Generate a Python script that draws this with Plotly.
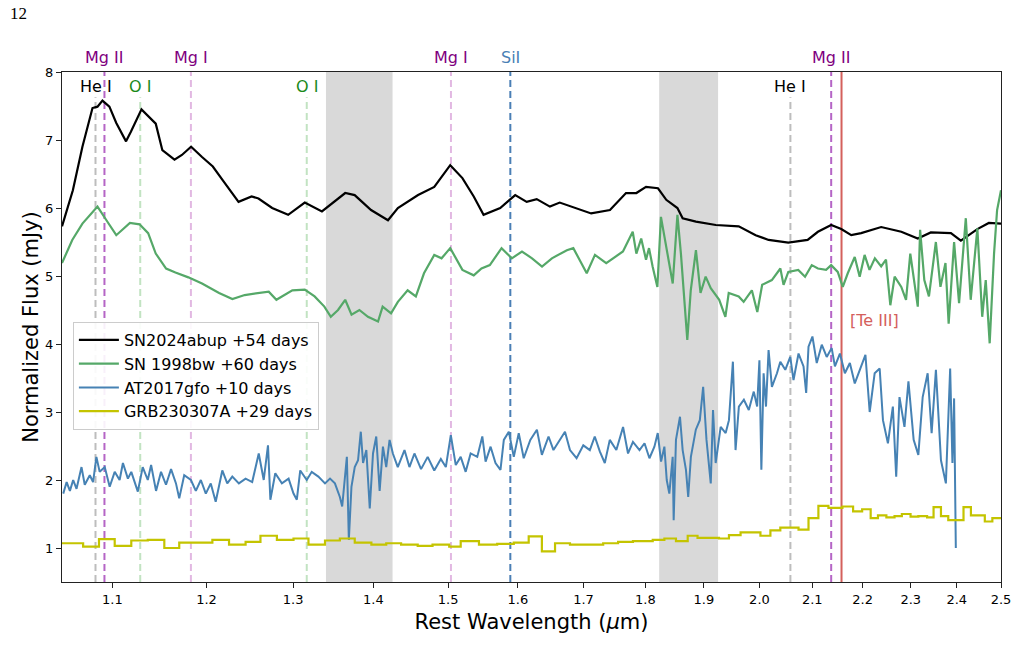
import math
import plotly.graph_objects as go

# ---------------- data ----------------
# SN2024abup +54 days (black)
bk_wl = [1.050, 1.0606, 1.070, 1.080, 1.085, 1.090, 1.097, 1.104, 1.114, 1.119,
         1.130, 1.138, 1.145, 1.152, 1.165, 1.173, 1.183, 1.195, 1.207, 1.218,
         1.236, 1.251, 1.259, 1.275, 1.294, 1.314, 1.335, 1.364, 1.376, 1.397,
         1.419, 1.432, 1.459, 1.481, 1.503, 1.520, 1.536, 1.550, 1.574, 1.596,
         1.613, 1.628, 1.648, 1.663, 1.689, 1.712, 1.742, 1.768, 1.785, 1.801,
         1.821, 1.835, 1.854, 1.863, 1.886, 1.921, 1.962, 1.993, 2.017, 2.054,
         2.091, 2.111, 2.137, 2.157, 2.177, 2.197, 2.238, 2.280, 2.315, 2.343,
         2.387, 2.409, 2.446, 2.472, 2.500]
bk_fl = [5.73, 6.26, 6.90, 7.47, 7.49, 7.58, 7.49, 7.25, 6.98, 7.12,
         7.45, 7.34, 7.24, 6.85, 6.71, 6.78, 6.90, 6.75, 6.61, 6.41,
         6.09, 6.17, 6.14, 6.00, 5.90, 6.08, 5.95, 6.22, 6.19, 5.97,
         5.82, 6.00, 6.19, 6.31, 6.63, 6.44, 6.17, 5.90, 6.00, 6.19,
         6.09, 6.13, 6.02, 6.08, 6.00, 5.92, 5.97, 6.22, 6.22, 6.31,
         6.29, 6.12, 6.00, 5.85, 5.80, 5.75, 5.73, 5.60, 5.53, 5.49,
         5.53, 5.65, 5.75, 5.69, 5.60, 5.63, 5.72, 5.65, 5.55, 5.64,
         5.63, 5.52, 5.69, 5.78, 5.77]

# SN 1998bw +60 days (green)
gr_wl = [1.050, 1.060, 1.070, 1.085, 1.094, 1.104, 1.118, 1.128, 1.137, 1.145,
         1.156, 1.166, 1.180, 1.195, 1.214, 1.229, 1.243, 1.259, 1.271, 1.280,
         1.299, 1.314, 1.326, 1.338, 1.346, 1.355, 1.364, 1.372, 1.382, 1.393,
         1.406, 1.412, 1.423, 1.432, 1.445, 1.456, 1.467, 1.481, 1.491, 1.503,
         1.520, 1.536, 1.547, 1.559, 1.576, 1.591, 1.606, 1.621, 1.636, 1.651,
         1.674, 1.684, 1.705, 1.718, 1.736, 1.763, 1.779, 1.785, 1.793, 1.801,
         1.806, 1.812, 1.820, 1.826, 1.835, 1.840, 1.846, 1.854, 1.860, 1.871,
         1.877, 1.886, 1.894, 1.903, 1.912, 1.927, 1.938, 1.944, 1.962, 1.971,
         1.986, 1.996, 2.005, 2.023, 2.039, 2.045, 2.054, 2.073, 2.086, 2.099,
         2.111, 2.127, 2.137, 2.150, 2.160, 2.170, 2.184, 2.194, 2.204, 2.214,
         2.225, 2.238, 2.248, 2.257, 2.266, 2.280, 2.290, 2.299, 2.308, 2.315,
         2.320, 2.329, 2.339, 2.354, 2.364, 2.375, 2.382, 2.394, 2.405, 2.420,
         2.431, 2.446, 2.457, 2.465, 2.474, 2.484, 2.491, 2.500]
gr_fl = [5.19, 5.53, 5.77, 6.02, 5.82, 5.60, 5.78, 5.76, 5.63, 5.33,
         5.11, 5.05, 4.98, 4.89, 4.75, 4.66, 4.72, 4.75, 4.77, 4.65,
         4.79, 4.80, 4.70, 4.55, 4.40, 4.50, 4.65, 4.43, 4.50, 4.40,
         4.33, 4.55, 4.45, 4.62, 4.79, 4.70, 5.04, 5.31, 5.26, 5.41,
         5.09, 5.01, 5.11, 5.16, 5.41, 5.26, 5.36, 5.26, 5.14, 5.26,
         5.38, 5.41, 5.04, 5.31, 5.19, 5.36, 5.65, 5.33, 5.55, 5.24,
         5.41, 5.14, 4.84, 5.87, 5.43, 5.14, 4.89, 5.90, 5.33, 4.06,
         4.79, 5.38, 4.75, 4.99, 4.82, 4.65, 4.40, 4.75, 4.70, 4.62,
         4.79, 4.47, 4.87, 4.94, 5.11, 4.87, 5.06, 5.09, 4.99, 5.16,
         5.11, 5.09, 5.16, 5.06, 4.84, 5.04, 5.28, 4.99, 5.31, 5.09,
         5.26, 5.14, 5.24, 4.57, 4.99, 4.84, 4.65, 5.33, 4.89, 4.55,
         5.68, 4.94, 4.70, 5.50, 4.84, 5.19, 4.30, 5.50, 4.60, 5.85,
         4.65, 5.70, 4.40, 4.94, 4.01, 5.33, 5.97, 6.26]

# AT2017gfo +10 days (blue)
bl_wl = [1.0512, 1.0545, 1.0577, 1.0609, 1.0642, 1.0691, 1.0723, 1.0773, 1.0806, 1.0839,
         1.0872, 1.0923, 1.0973, 1.1024, 1.1074, 1.1108, 1.1159, 1.1194, 1.1262, 1.1313,
         1.1366, 1.1401, 1.1453, 1.1506, 1.1559, 1.1613, 1.1666, 1.1701, 1.1755, 1.1828,
         1.1882, 1.1937, 1.1992, 1.2047, 1.2102, 1.2176, 1.2232, 1.2289, 1.2364, 1.2441,
         1.2517, 1.2593, 1.2651, 1.2701, 1.2729, 1.2787, 1.2865, 1.2945, 1.3004, 1.3044,
         1.3085, 1.3164, 1.3225, 1.3306, 1.3388, 1.3450, 1.3511, 1.3573, 1.3602, 1.3636,
         1.3661, 1.3686, 1.3719, 1.3761, 1.3803, 1.3838, 1.3867, 1.3909, 1.3953, 1.3995,
         1.4037, 1.4081, 1.4124, 1.4167, 1.4211, 1.4254, 1.4319, 1.4408, 1.4474, 1.4541,
         1.4630, 1.4720, 1.4810, 1.4900, 1.4969, 1.5038, 1.5107, 1.5176, 1.5246, 1.5316,
         1.5410, 1.5482, 1.5529, 1.5601, 1.5672, 1.5744, 1.5793, 1.5866, 1.5939, 1.6012,
         1.6086, 1.6184, 1.6283, 1.6358, 1.6459, 1.6534, 1.6634, 1.6711, 1.6788, 1.6891,
         1.6996, 1.7099, 1.7177, 1.7257, 1.7337, 1.7417, 1.7523, 1.7632, 1.7713, 1.7794,
         1.7902, 1.7985, 1.8067, 1.8150, 1.8206, 1.8262, 1.8318, 1.8358, 1.8402, 1.8459,
         1.8476, 1.8515, 1.8584, 1.8630, 1.8687, 1.8726, 1.8772, 1.8858, 1.8928, 1.8986,
         1.9045, 1.9120, 1.9160, 1.9207, 1.9296, 1.9385, 1.9444, 1.9515, 1.9563, 1.9623,
         1.9714, 1.9804, 1.9895, 1.9957, 1.9999, 2.0035, 2.0077, 2.0121, 2.0169, 2.0231,
         2.0326, 2.0389, 2.0483, 2.0577, 2.0639, 2.0735, 2.0831, 2.0882, 2.0927, 2.1003,
         2.1087, 2.1185, 2.1282, 2.1380, 2.1444, 2.1543, 2.1642, 2.1742, 2.1841, 2.1942,
         2.2057, 2.2144, 2.2246, 2.2349, 2.2417, 2.2520, 2.2623, 2.2693, 2.2762, 2.2867,
         2.2951, 2.3062, 2.3162, 2.3255, 2.3362, 2.3448, 2.3541, 2.3651, 2.3759, 2.3853,
         2.3903, 2.3940, 2.3978]
bl_fl = [1.80, 1.97, 1.84, 2.00, 1.87, 2.19, 1.93, 2.07, 1.97, 2.34,
         2.12, 2.19, 1.90, 2.12, 2.00, 2.25, 2.02, 2.12, 1.83, 2.19,
         2.00, 2.22, 1.84, 2.12, 1.93, 2.16, 1.95, 1.73, 2.07, 2.00,
         1.84, 2.00, 1.80, 1.95, 1.68, 2.14, 1.95, 2.05, 1.95, 2.02,
         1.97, 2.39, 2.00, 2.51, 1.71, 2.10, 1.95, 2.02, 1.80, 1.71,
         2.14, 2.00, 2.12, 2.05, 1.95, 2.02, 1.95, 1.75, 1.61, 2.10,
         2.34, 1.12, 1.90, 2.19, 2.29, 2.71, 2.25, 2.44, 1.58, 2.39,
         2.64, 1.84, 2.49, 2.19, 2.59, 2.39, 2.19, 2.44, 2.19, 2.39,
         2.16, 2.34, 2.14, 2.31, 2.19, 2.66, 2.22, 2.34, 2.12, 2.39,
         2.34, 2.64, 2.27, 2.49, 2.25, 2.15, 2.59, 2.71, 2.34, 2.69,
         2.32, 2.59, 2.74, 2.37, 2.64, 2.44, 2.59, 2.71, 2.44, 2.32,
         2.51, 2.44, 2.64, 2.42, 2.25, 2.59, 2.44, 2.78, 2.39, 2.56,
         2.44, 2.54, 2.32, 2.49, 2.69, 2.27, 2.49, 2.00, 1.80, 2.34,
         1.41, 2.59, 2.93, 2.44, 2.15, 1.75, 2.34, 2.74, 2.88, 3.37,
         2.59, 1.95, 3.03, 2.25, 2.78, 2.69, 2.88, 3.74, 2.44, 3.08,
         3.18, 3.03, 3.30, 3.08, 3.76, 2.15, 3.57, 3.08, 3.91, 3.37,
         3.57, 3.74, 3.62, 3.81, 3.47, 3.86, 3.67, 3.28, 3.96, 4.11,
         3.72, 3.99, 3.81, 3.94, 3.67, 3.86, 3.57, 3.72, 3.42, 3.62,
         3.84, 3.00, 3.57, 3.64, 2.88, 2.54, 3.08, 2.05, 3.22, 2.78,
         3.45, 2.59, 2.37, 3.22, 3.57, 2.69, 3.62, 2.29, 1.95, 3.64,
         2.25, 3.20, 1.00]

# GRB230307A +29 days (yellow, binned: left edge of each bin)
ye_wl = [1.040, 1.0707, 1.0865, 1.1024, 1.1194, 1.1366, 1.1541, 1.1701, 1.1882, 1.2065,
         1.2252, 1.2441, 1.2613, 1.2806, 1.3004, 1.3185, 1.3388, 1.3573, 1.3761, 1.3974,
         1.4167, 1.4363, 1.4585, 1.4786, 1.5016, 1.5176, 1.5434, 1.5696, 1.5939, 1.6160,
         1.6358, 1.6558, 1.6788, 1.7047, 1.7311, 1.7551, 1.7794, 1.8122, 1.8318, 1.8515,
         1.8717, 1.8888, 1.9266, 1.9444, 1.9654, 2.0018, 2.0203, 2.0389, 2.0735, 2.0927,
         2.1119, 2.1315, 2.1593, 2.1807, 2.1990, 2.2164, 2.2314, 2.2488, 2.2658, 2.2812,
         2.2996, 2.3162, 2.3350, 2.3490, 2.3651, 2.3811, 2.4149, 2.4315, 2.4477, 2.4629,
         2.4801, 2.5100]
ye_fl = [1.07, 1.02, 1.13, 1.03, 1.11, 1.12, 1.00, 1.08, 1.08, 1.12,
         1.05, 1.09, 1.18, 1.12, 1.14, 1.05, 1.11, 1.14, 1.08, 1.05,
         1.07, 1.05, 1.03, 1.05, 1.02, 1.10, 1.05, 1.06, 1.08, 1.17,
         0.95, 1.07, 1.05, 1.05, 1.07, 1.09, 1.10, 1.12, 1.14, 1.10,
         1.18, 1.15, 1.14, 1.19, 1.23, 1.18, 1.26, 1.30, 1.27, 1.44,
         1.62, 1.59, 1.61, 1.54, 1.57, 1.44, 1.48, 1.45, 1.47, 1.50,
         1.46, 1.47, 1.45, 1.60, 1.47, 1.41, 1.60, 1.48, 1.48, 1.39,
         1.44, 1.44]

series_names = ["SN2024abup +54 days", "SN 1998bw +60 days",
                "AT2017gfo +10 days", "GRB230307A +29 days"]

# telluric bands (µm)
bands = [(1.34, 1.425), (1.823, 1.925)]

# line identifications: (label, wavelength, style key)
line_ids = [("He I", 1.083, "he"), ("Mg II", 1.092, "mg2"), ("O I", 1.1287, "o1"),
            ("Mg I", 1.1828, "mg1"), ("O I", 1.3164, "o1"), ("Mg I", 1.5040, "mg1"),
            ("SiI", 1.5888, "si"), ("He I", 2.058, "he"), ("Mg II", 2.137, "mg2")]
te_wl = 2.1575

x_ticks = [1.1, 1.2, 1.3, 1.4, 1.5, 1.6, 1.7, 1.8, 1.9, 2.0, 2.1, 2.2, 2.3, 2.4, 2.5]
y_ticks = [1, 2, 3, 4, 5, 6, 7, 8]

# ---------------- styles ----------------
FONT = "DejaVu Sans"
styles = {
    "he": dict(color="#bdbdbd", top=7.63, text_color="black", inside=True),
    "o1": dict(color="#c2e3c2", top=7.63, text_color="#1a8a1a", inside=True),
    "mg2": dict(color="#b565c6", top=8.0, text_color="#800080", inside=False),
    "mg1": dict(color="#e2b8e2", top=8.0, text_color="#800080", inside=False),
    "si": dict(color="#4a7fb5", top=8.0, text_color="#4a7fb5", inside=False),
}

fig = go.Figure()

# shaded bands
for a, b in bands:
    fig.add_trace(go.Scatter(x=[a, b, b, a, a], y=[0.5, 0.5, 8, 8, 0.5],
                             fill="toself", fillcolor="#d9d9d9", mode="none",
                             showlegend=False, hoverinfo="skip"))

# vertical line identifications
for label, wl, key in line_ids:
    st = styles[key]
    fig.add_trace(go.Scatter(x=[wl, wl], y=[0.5, st["top"]], mode="lines",
                             line=dict(color=st["color"], width=2, dash="7px,4px"),
                             showlegend=False, hoverinfo="skip"))
fig.add_trace(go.Scatter(x=[te_wl, te_wl], y=[0.5, 8], mode="lines",
                         line=dict(color="#d4605c", width=2),
                         showlegend=False, hoverinfo="skip"))

# spectra
fig.add_trace(go.Scatter(x=bk_wl, y=bk_fl, mode="lines", name=series_names[0],
                         line=dict(color="black", width=2.2)))
fig.add_trace(go.Scatter(x=gr_wl, y=gr_fl, mode="lines", name=series_names[1],
                         line=dict(color="#55a868", width=2.2)))
fig.add_trace(go.Scatter(x=bl_wl, y=bl_fl, mode="lines", name=series_names[2],
                         line=dict(color="#4682b4", width=2)))
fig.add_trace(go.Scatter(x=ye_wl, y=ye_fl, mode="lines", name=series_names[3],
                         line=dict(color="#c4c400", width=2.2, shape="hv")))

# annotations
annotations = []
for label, wl, key in line_ids:
    st = styles[key]
    if st["inside"]:
        annotations.append(dict(x=math.log10(wl), y=7.78, xref="x", yref="y",
                                text=label, showarrow=False,
                                font=dict(family=FONT, size=16, color=st["text_color"]),
                                xanchor="center", yanchor="middle"))
    else:
        annotations.append(dict(x=math.log10(wl), y=1, xref="x", yref="paper",
                                text=label, showarrow=False, yshift=15,
                                font=dict(family=FONT, size=16, color=st["text_color"]),
                                xanchor="center", yanchor="middle"))
annotations.append(dict(x=math.log10(2.171), y=4.34, xref="x", yref="y",
                        text="[Te III]", showarrow=False,
                        font=dict(family=FONT, size=16, color="#d4605c"),
                        xanchor="left", yanchor="middle"))
annotations.append(dict(x=-0.057, y=1.114, xref="paper", yref="paper", text="12",
                        showarrow=False, xanchor="left", yanchor="middle",
                        font=dict(family="Liberation Serif", size=17, color="black")))

fig.update_layout(
    width=1023, height=665,
    margin=dict(l=62, r=16, t=72, b=83),
    paper_bgcolor="white", plot_bgcolor="white",
    font=dict(family=FONT, color="black"),
    annotations=annotations,
    showlegend=True,
    legend=dict(x=0.0116, y=0.51, xanchor="left", yanchor="top",
                bgcolor="rgba(255,255,255,0.9)", bordercolor="#cccccc", borderwidth=1,
                font=dict(family=FONT, size=16, color="black"),
                itemwidth=40, tracegroupgap=0),
    xaxis=dict(type="log", range=[math.log10(1.05), math.log10(2.5)],
               tickvals=x_ticks, ticktext=["%.1f" % t for t in x_ticks],
               ticks="outside", ticklen=5, tickwidth=1.2, tickcolor="#222",
               showline=True, linecolor="#222", linewidth=1.3, mirror=True,
               showgrid=False, zeroline=False,
               tickfont=dict(family=FONT, size=13),
               title=dict(text="Rest Wavelength (<i>μ</i>m)",
                          font=dict(family=FONT, size=21), standoff=8)),
    yaxis=dict(range=[0.5, 8], tickvals=y_ticks,
               ticks="outside", ticklen=5, tickwidth=1.2, tickcolor="#222",
               showline=True, linecolor="#222", linewidth=1.3, mirror=True,
               showgrid=False, zeroline=False,
               tickfont=dict(family=FONT, size=13),
               title=dict(text="Normalized Flux (mJy)",
                          font=dict(family=FONT, size=21), standoff=0)),
)

fig.write_html("out.html")
